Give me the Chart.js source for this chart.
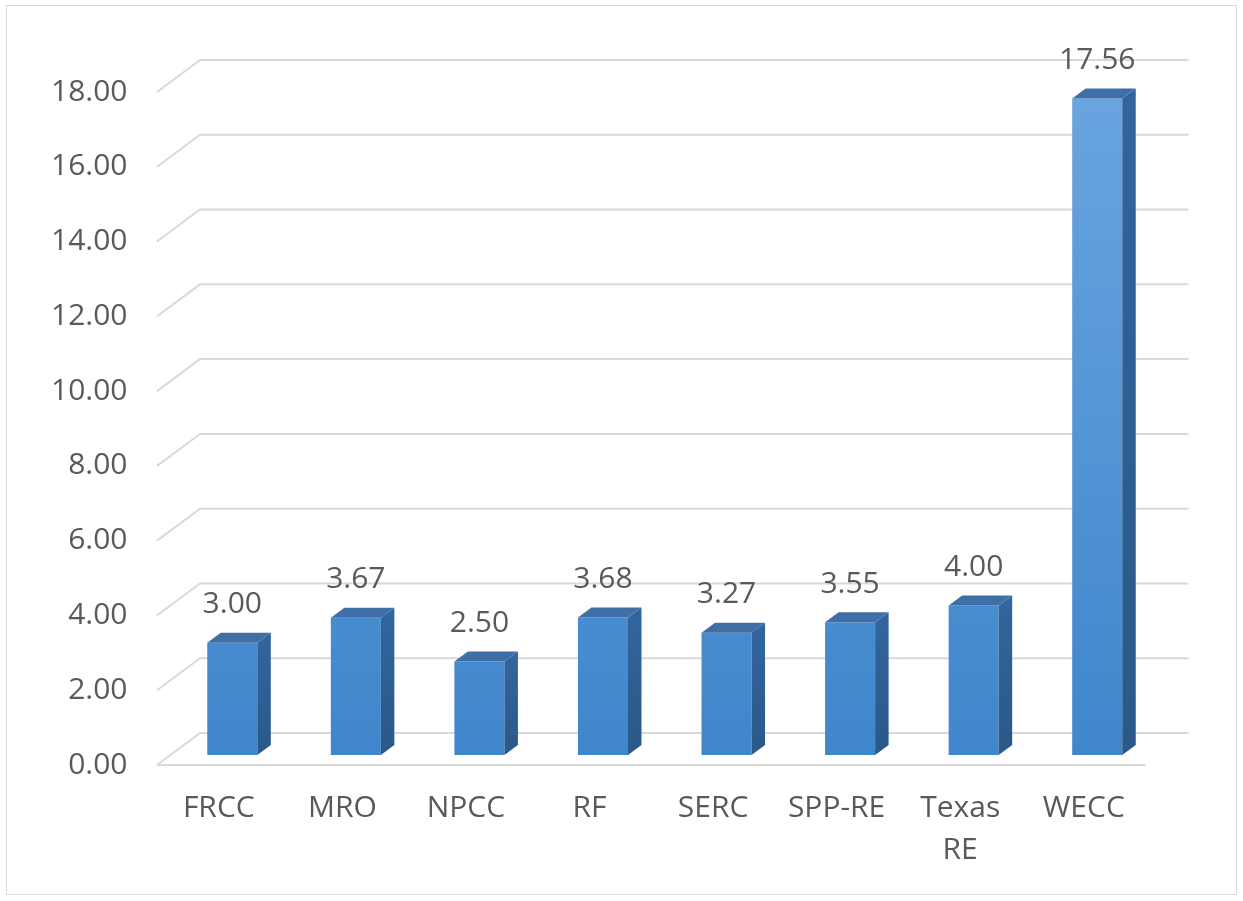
<!DOCTYPE html>
<html>
<head>
<meta charset="utf-8">
<script src="https://cdn.jsdelivr.net/npm/chart.js@4.4.1/dist/chart.umd.min.js"></script>
<style>
html, body { margin: 0; padding: 0; background: #fff; }
#wrap { position: relative; width: 1243px; height: 901px; }
#frame { position: absolute; left: 6px; top: 5px; width: 1231px; height: 890px; border: 1px solid #d9d9d9; box-sizing: border-box; }
canvas { position: absolute; left: 0; top: 0; }
</style>
</head>
<body>
<div id="wrap">
  <div id="frame"></div>
  <canvas id="barChart" width="1243" height="901"></canvas>
</div>
<script>
// Regions and their values
const categories = ['FRCC', 'MRO', 'NPCC', 'RF', 'SERC', 'SPP-RE', ['Texas', 'RE'], 'WECC'];
const values = [3.00, 3.67, 2.50, 3.68, 3.27, 3.55, 4.00, 17.56];
const yMin = 0;
const yMax = 18;
const yStep = 2;

// fake 3D offsets (bar plane -> front floor edge / back wall / bar depth)
const FRONT_DX = 13.5, FRONT_DY = 10;
const BACK_DX = 29.5, BACK_DY = 22;
const DEPTH_DX = 13.5, DEPTH_DY = 10;

const textColor = '#595959';
const gridColor = '#d9d9d9';
const fontFamily = '"Open Sans", "Noto Sans", sans-serif';

// Draws back wall grid, side diagonals and floor edge
const wallPlugin = {
    id: 'wall',
    beforeDatasetsDraw(chart) {
        const { ctx, chartArea: a, scales: { y } } = chart;
        ctx.save();
        ctx.strokeStyle = gridColor;
        ctx.lineWidth = 2;
        y.ticks.forEach(t => {
            const py = y.getPixelForValue(t.value);
            ctx.beginPath();
            ctx.moveTo(a.left - FRONT_DX, py + FRONT_DY);
            ctx.lineTo(a.left + BACK_DX, py - BACK_DY);
            ctx.lineTo(a.right + BACK_DX, py - BACK_DY);
            ctx.stroke();
        });
        const p0 = y.getPixelForValue(0);
        ctx.beginPath();
        ctx.moveTo(a.left - FRONT_DX, p0 + FRONT_DY);
        ctx.lineTo(a.right - FRONT_DX, p0 + FRONT_DY);
        ctx.stroke();
        ctx.restore();
    }
};

// Adds top and side faces to each bar plus the value labels
const boxPlugin = {
    id: 'box',
    afterDatasetsDraw(chart) {
        const ctx = chart.ctx;
        ctx.save();
        chart.getDatasetMeta(0).data.forEach((bar, i) => {
            const { x, y, base, width } = bar.getProps(['x', 'y', 'base', 'width'], true);
            const l = x - width / 2, r = x + width / 2;

            const side = ctx.createLinearGradient(0, y, 0, base);
            side.addColorStop(0, '#32659d');
            side.addColorStop(1, '#2a5888');
            ctx.fillStyle = side;
            ctx.beginPath();
            ctx.moveTo(r, y);
            ctx.lineTo(r + DEPTH_DX, y - DEPTH_DY);
            ctx.lineTo(r + DEPTH_DX, base - DEPTH_DY);
            ctx.lineTo(r, base);
            ctx.closePath();
            ctx.fill();

            ctx.fillStyle = '#3e6fa7';
            ctx.beginPath();
            ctx.moveTo(l, y);
            ctx.lineTo(l + DEPTH_DX, y - DEPTH_DY);
            ctx.lineTo(r + DEPTH_DX, y - DEPTH_DY);
            ctx.lineTo(r, y);
            ctx.closePath();
            ctx.fill();

            ctx.fillStyle = textColor;
            ctx.font = '30px ' + fontFamily;
            ctx.textAlign = 'center';
            ctx.textBaseline = 'middle';
            ctx.fillText(values[i].toFixed(2), x, y - 38);
        });
        ctx.restore();
    }
};

function frontFill(context) {
    const area = context.chart.chartArea;
    if (!area) return '#5b9bd5';
    const g = context.chart.ctx.createLinearGradient(0, area.top, 0, area.bottom);
    g.addColorStop(0, '#6aa5df');
    g.addColorStop(1, '#3f86cc');
    return g;
}

const ctx = document.getElementById('barChart').getContext('2d');
new Chart(ctx, {
    type: 'bar',
    data: {
        labels: categories,
        datasets: [{
            data: values,
            backgroundColor: frontFill,
            borderWidth: 0,
            barPercentage: 0.405,
            categoryPercentage: 1
        }]
    },
    options: {
        responsive: false,
        animation: false,
        devicePixelRatio: 1,
        layout: { padding: { top: 82, right: 84, left: 0, bottom: 0 } },
        plugins: { legend: { display: false }, tooltip: { enabled: false } },
        scales: {
            x: {
                grid: { display: false, drawTicks: false },
                border: { display: false },
                ticks: {
                    color: textColor,
                    font: { family: fontFamily, size: 30, lineHeight: 1.4 },
                    padding: 32,
                    labelOffset: -FRONT_DX,
                    maxRotation: 0,
                    autoSkip: false
                },
                afterFit(scale) { scale.height = 146; }
            },
            y: {
                min: yMin,
                max: yMax,
                grid: { display: false, drawTicks: false },
                border: { display: false },
                ticks: {
                    stepSize: yStep,
                    color: textColor,
                    font: { family: fontFamily, size: 30 },
                    padding: 43,
                    labelOffset: FRONT_DY,
                    callback: v => Number(v).toFixed(2)
                },
                afterFit(scale) { scale.width = 170.5; }
            }
        }
    },
    plugins: [wallPlugin, boxPlugin]
});
</script>
</body>
</html>
